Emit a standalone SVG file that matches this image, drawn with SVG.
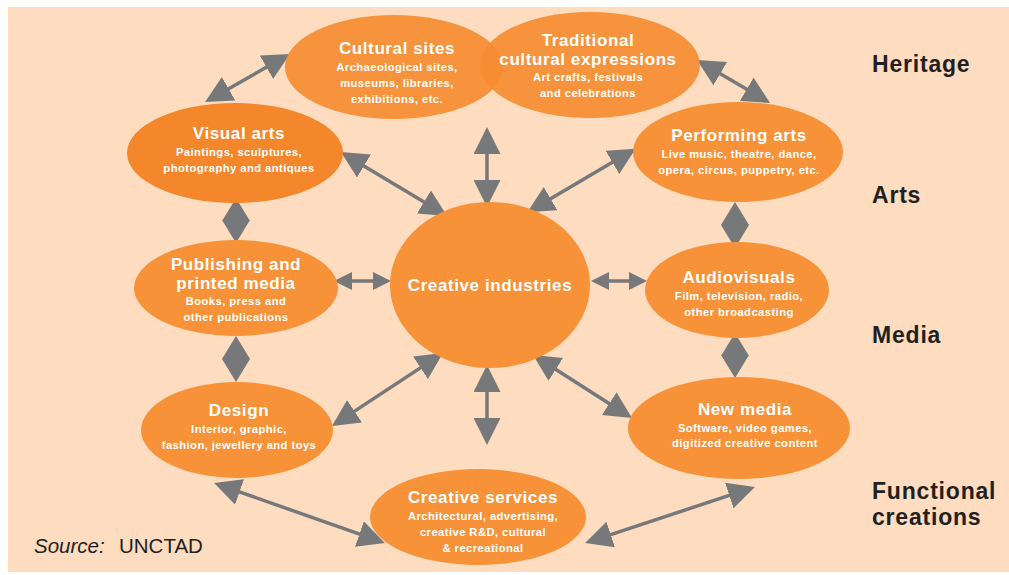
<svg xmlns="http://www.w3.org/2000/svg" width="1009" height="575" viewBox="0 0 1009 575">
<style>
.bg{fill:#FDDCBF}
.node{fill:#F79239}
.dark{fill:#F4872B}
.ov{fill:#F68D33;fill-opacity:0.93}
.t{font-family:"Liberation Sans",Arial,sans-serif;font-weight:bold;fill:#FFFFFF;text-anchor:middle}
.h{font-size:17px;letter-spacing:0.6px}
.s{font-size:11.2px;letter-spacing:0.45px}
.lab{font-family:"Liberation Sans",Arial,sans-serif;font-weight:bold;font-size:23px;letter-spacing:0.8px;fill:#231F20}
.src{font-family:"Liberation Sans",Arial,sans-serif;font-size:20.5px;fill:#231F20}
.c{stroke:#76787A;stroke-width:3.5;fill:none}
.big{marker-start:url(#mb);marker-end:url(#mb)}
.sm{marker-start:url(#ms);marker-end:url(#ms)}
.vt{marker-start:url(#mv);marker-end:url(#mv)}
</style>
<defs>
<marker id="mb" markerUnits="userSpaceOnUse" markerWidth="27" markerHeight="27" viewBox="0 0 27 27" refX="4" refY="13.5" orient="auto-start-reverse"><path d="M0,0 L27,13.5 L0,27 Z" fill="#76787A"/></marker>
<marker id="ms" markerUnits="userSpaceOnUse" markerWidth="18" markerHeight="18" viewBox="0 0 18 18" refX="3" refY="9" orient="auto-start-reverse"><path d="M0,0 L18,9 L0,18 Z" fill="#76787A"/></marker>
<marker id="mv" markerUnits="userSpaceOnUse" markerWidth="23" markerHeight="28" viewBox="0 0 23 28" refX="3" refY="14" orient="auto-start-reverse"><path d="M0,0 L23,14 L0,28 Z" fill="#76787A"/></marker>
</defs>
<rect x="0" y="0" width="1009" height="575" fill="#FFFFFF"/>
<rect class="bg" x="8" y="7" width="1001" height="565"/>

<g id="connectors">
<line class="c big" x1="487" y1="150" x2="487" y2="184"/>
<line class="c big" x1="487" y1="388" x2="487" y2="422"/>
<line class="c big" x1="360.6" y1="163.9" x2="427.4" y2="204.1"/>
<line class="c big" x1="615.8" y1="160.3" x2="547.2" y2="200.7"/>
<line class="c big" x1="423.8" y1="365.6" x2="351.2" y2="413.4"/>
<line class="c big" x1="552.4" y1="367.3" x2="612.6" y2="405.7"/>
<line class="c big" x1="225.1" y1="90.7" x2="269.9" y2="65.3"/>
<line class="c big" x1="716.8" y1="71.7" x2="750.2" y2="91.3"/>
<line class="c big" x1="235.8" y1="490.6" x2="363.2" y2="535.4"/>
<line class="c big" x1="606.9" y1="535.8" x2="733.1" y2="494.2"/>
<line class="c sm" x1="349" y1="281" x2="376" y2="281"/>
<line class="c sm" x1="606" y1="281" x2="632" y2="281"/>
<line class="c vt" x1="236" y1="218" x2="236" y2="223"/>
<line class="c vt" x1="236" y1="356" x2="236" y2="362"/>
<line class="c vt" x1="735" y1="222" x2="735" y2="228"/>
<line class="c vt" x1="735" y1="353" x2="735" y2="358"/>
</g>

<g id="cultural-sites">
<ellipse class="ov" cx="394" cy="67" rx="109" ry="52"/>
<text class="t h" x="397" y="54">Cultural sites</text>
<text class="t s" x="397" y="71">Archaeological sites,</text>
<text class="t s" x="397" y="87">museums, libraries,</text>
<text class="t s" x="397" y="103">exhibitions, etc.</text>
</g>
<g id="traditional">
<ellipse class="ov" cx="590" cy="65" rx="110" ry="53"/>
<text class="t h" x="588" y="46">Traditional</text>
<text class="t h" x="588" y="65">cultural expressions</text>
<text class="t s" x="588" y="81">Art crafts, festivals</text>
<text class="t s" x="588" y="97">and celebrations</text>
</g>
<g id="visual-arts">
<ellipse class="dark" cx="235" cy="153" rx="108" ry="50"/>
<text class="t h" x="239" y="139">Visual arts</text>
<text class="t s" x="239" y="156">Paintings, sculptures,</text>
<text class="t s" x="239" y="172">photography and antiques</text>
</g>
<g id="performing-arts">
<ellipse class="node" cx="738" cy="152" rx="105" ry="50"/>
<text class="t h" x="739" y="141">Performing arts</text>
<text class="t s" x="739" y="158">Live music, theatre, dance,</text>
<text class="t s" x="739" y="174">opera, circus, puppetry, etc.</text>
</g>
<g id="publishing">
<ellipse class="node" cx="236" cy="288" rx="102" ry="48"/>
<text class="t h" x="236" y="270">Publishing and</text>
<text class="t h" x="236" y="289">printed media</text>
<text class="t s" x="236" y="305">Books, press and</text>
<text class="t s" x="236" y="321">other publications</text>
</g>
<g id="creative-industries">
<ellipse class="node" cx="490" cy="285" rx="100" ry="83"/>
<text class="t h" x="490" y="291">Creative industries</text>
</g>
<g id="audiovisuals">
<ellipse class="node" cx="737" cy="290" rx="92" ry="48"/>
<text class="t h" x="739" y="283">Audiovisuals</text>
<text class="t s" x="739" y="300">Film, television, radio,</text>
<text class="t s" x="739" y="316">other broadcasting</text>
</g>
<g id="design">
<ellipse class="node" cx="237" cy="430" rx="96" ry="48"/>
<text class="t h" x="239" y="416">Design</text>
<text class="t s" x="239" y="433">Interior, graphic,</text>
<text class="t s" x="239" y="449">fashion, jewellery and toys</text>
</g>
<g id="new-media">
<ellipse class="node" cx="739" cy="428" rx="111" ry="51"/>
<text class="t h" x="745" y="415">New media</text>
<text class="t s" x="745" y="432">Software, video games,</text>
<text class="t s" x="745" y="447">digitized creative content</text>
</g>
<g id="creative-services">
<ellipse class="node" cx="478" cy="517" rx="108" ry="48"/>
<text class="t h" x="483" y="503">Creative services</text>
<text class="t s" x="483" y="520">Architectural, advertising,</text>
<text class="t s" x="483" y="536">creative R&amp;D, cultural</text>
<text class="t s" x="483" y="552">&amp; recreational</text>
</g>

<g id="labels">
<text class="lab" x="872" y="72">Heritage</text>
<text class="lab" x="872" y="203">Arts</text>
<text class="lab" x="872" y="343">Media</text>
<text class="lab" x="872" y="499">Functional</text>
<text class="lab" x="872" y="525">creations</text>
<text class="src" x="34" y="553"><tspan font-style="italic">Source:</tspan><tspan x="119">UNCTAD</tspan></text>
</g>
</svg>
